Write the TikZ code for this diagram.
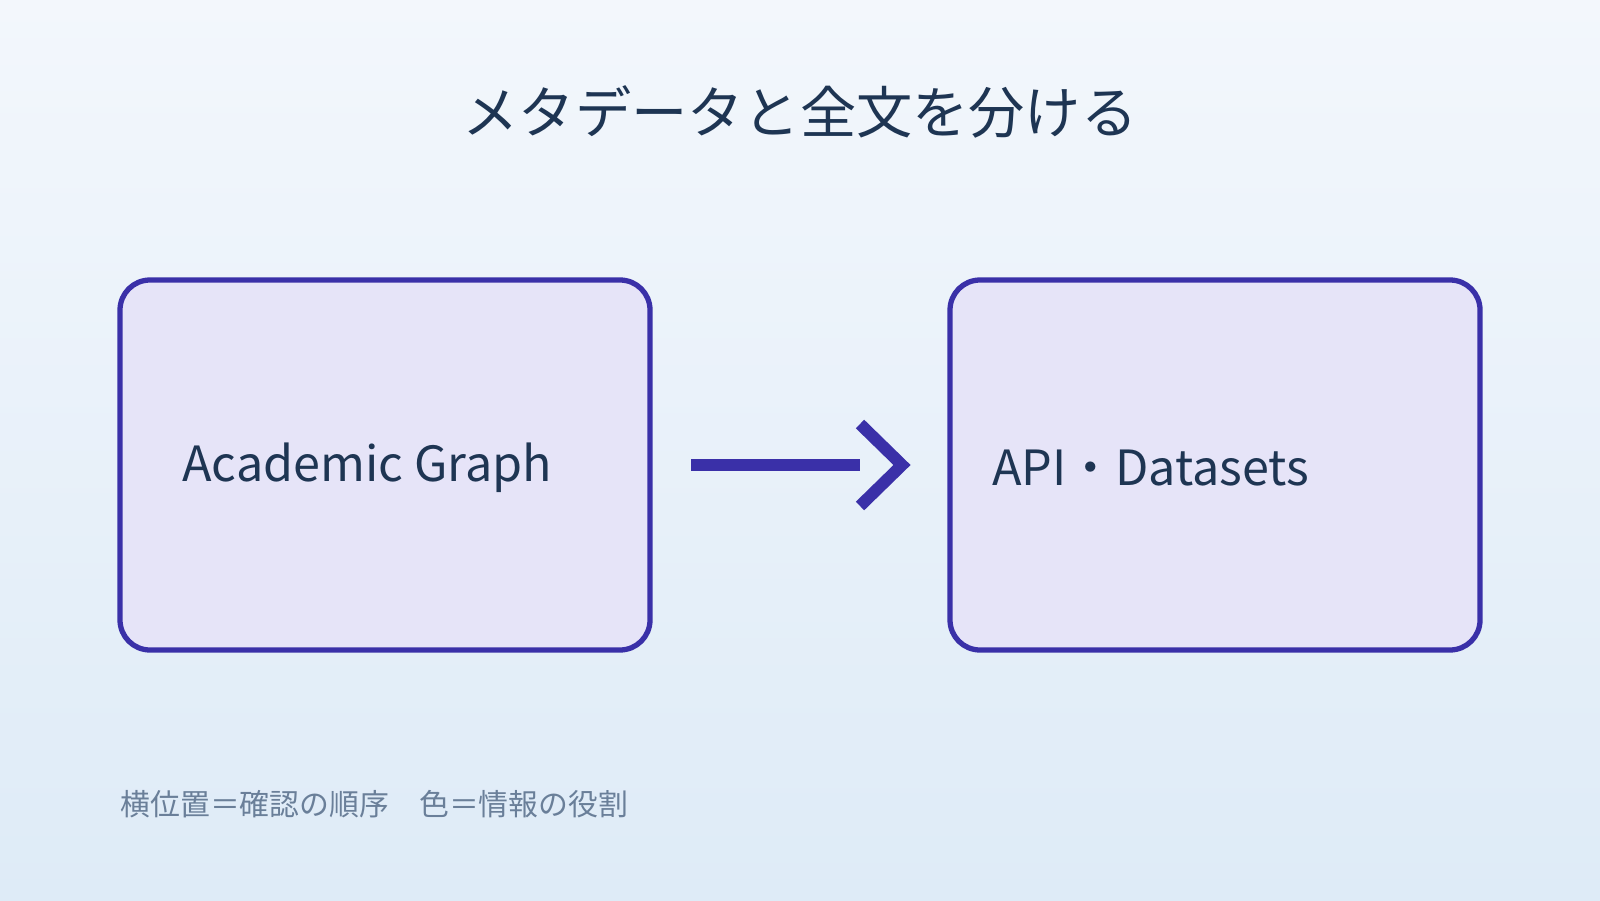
\documentclass[tikz,border=0pt]{standalone}
\usepackage{fontspec}
\setmainfont{Noto Sans CJK JP}
\usetikzlibrary{positioning}
\definecolor{bgtop}{HTML}{F3F7FC}
\definecolor{bgbot}{HTML}{DEEBF7}
\definecolor{boxfill}{HTML}{E6E4F8}
\definecolor{boxline}{HTML}{3A30A8}
\definecolor{ink}{HTML}{1E3553}
\definecolor{note}{HTML}{6A7F99}
\tikzset{stage/.style={draw=boxline, line width=1.5pt, fill=boxfill, rounded corners=0.3cm, minimum width=5.3cm, minimum height=3.7cm}}
\tikzset{label/.style={text=ink, font=\fontsize{13.8}{16}\selectfont, anchor=west}}
\begin{document}
\begin{tikzpicture}
\shade[top color=bgtop, bottom color=bgbot] (0,0) rectangle (16,9);
\useasboundingbox (0,0) rectangle (16,9);

\node[text=ink, font=\fontsize{16}{19}\selectfont] (title) at (8, 7.88) {メタデータと全文を分ける};

\node[stage] (graph) at (3.85, 4.35) {};
\node[stage] (data) at (12.15, 4.35) {};
\node[label] (graphText) at (1.7, 4.32) {Academic Graph};
\node[label] (dataText) at (9.8, 4.32) {API・Datasets};

\coordinate (arrowStart) at (6.91, 4.35);
\coordinate (arrowEnd) at (8.6, 4.35);
\draw[boxline, line width=3.4pt] (arrowStart) -- (arrowEnd);
\draw[boxline, line width=3.4pt, line join=miter] (8.6, 4.76) -- (9.02, 4.35) -- (8.6, 3.94);

\node[text=note, font=\fontsize{8.5}{10}\selectfont, anchor=west] (legend) at (1.08, 0.96) {横位置＝確認の順序　色＝情報の役割};
\end{tikzpicture}
\end{document}
